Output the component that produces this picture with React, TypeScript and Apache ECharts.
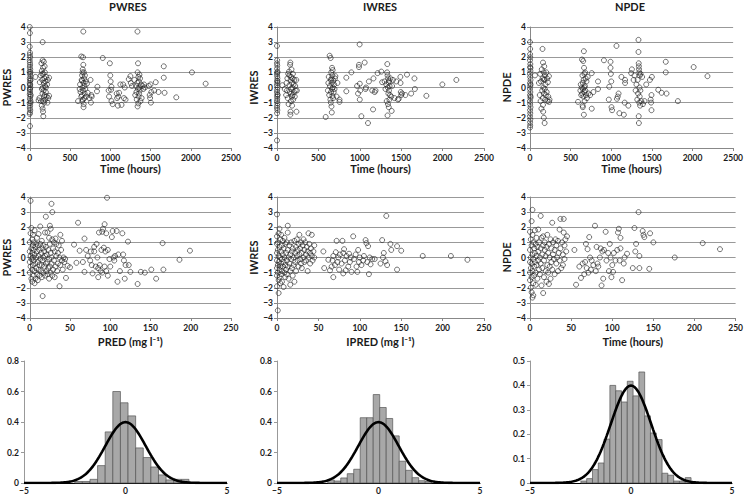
import React, { useEffect, useRef } from "react";
import * as echarts from "echarts";

// ---------- DATA ----------
const columnTitles = ["PWRES", "IWRES", "NPDE"];
const timeTicks = [0, 500, 1000, 1500, 2000, 2500];
const predTicks = [0, 50, 100, 150, 200, 250];

// PWRES vs Time (hours)
const pwresTime: number[][] = [
  [0,4.0],[2,3.6],[0,2.7],[3,2.3],[1,2.15],[5,2.0],[0,1.8],[2,1.65],[4,1.5],[1,1.35],[6,1.2],[0,1.05],[3,0.9],[8,0.75],[1,0.6],[5,0.45],[0,0.3],[3,0.15],[7,0.0],[1,-0.15],[4,-0.3],[0,-0.45],[6,-0.6],[2,-0.75],[9,-0.9],[0,-1.05],[4,-1.2],[1,-1.35],[6,-1.5],[2,-1.65],[0,-1.75],[3,-2.55],[10,0.5],[12,-0.5],[8,1.0],[10,-1.0],[5,0.2],[3,-0.1],
  [70,0.7],[110,-0.85],[120,-0.7],[125,0.35],[135,0.8],[140,-0.9],[145,1.6],[150,1.1],[150,-1.2],[155,0.5],[158,-0.4],[160,3.0],[160,1.8],[162,0.0],[165,-1.6],[165,1.3],[168,-1.9],[170,0.9],[172,-0.2],[175,1.7],[175,0.3],[178,-0.6],[180,-1.0],[182,0.6],[185,-0.5],[188,1.0],[190,0.1],[192,-0.8],[195,0.4],[200,-0.3],[205,0.7],[210,-0.6],[215,0.2],[220,-1.0],[225,0.5],[230,-0.7],[240,0.65],[240,-0.55],[150,-0.1],[155,0.9],[160,-1.4],[200,0.0],[185,1.4],[170,-0.9],
  [600,-0.9],[620,-0.1],[625,0.2],[630,-0.3],[640,2.05],[645,0.5],[648,-0.5],[650,0.8],[652,-0.9],[655,0.0],[658,1.2],[660,-0.2],[662,2.0],[665,3.7],[665,1.5],[668,-1.3],[668,0.3],[670,-1.1],[672,1.0],[675,0.6],[678,-0.7],[680,0.1],[682,-0.4],[685,0.8],[690,-0.1],[695,0.4],[700,-0.6],[710,0.25],[720,-0.35],[740,-0.7],[755,0.5],[760,-1.0],[765,-0.5],[770,-0.6],[835,-0.25],[840,0.05],[640,-0.6],[655,1.0],[660,-0.8],[650,0.45],
  [907,1.95],[980,-0.2],[985,-0.6],[995,1.6],[1000,0.8],[1005,0.4],[1010,-0.15],[1015,0.05],[1015,-0.9],[1030,-1.1],[1080,-0.4],[1085,-0.7],[1095,-1.2],[1100,-0.6],[1110,-0.35],[1125,0.2],[1140,-1.15],[1160,0.2],[1170,-0.7],[1180,0.0],[1190,-0.8],[1230,0.55],[1250,0.75],[1255,0.3],[1270,0.1],
  [1300,0.5],[1310,-0.5],[1320,0.1],[1325,-0.3],[1330,-0.8],[1335,0.3],[1338,3.7],[1340,-1.25],[1340,1.0],[1342,-0.1],[1345,1.6],[1348,-1.05],[1350,0.7],[1352,-0.6],[1355,0.4],[1358,-0.4],[1360,0.0],[1362,0.85],[1365,-0.2],[1370,0.6],[1375,-0.9],[1380,0.2],[1390,-0.7],[1400,0.1],[1410,-0.1],[1420,0.2],[1430,0.0],
  [1480,0.1],[1490,-0.5],[1495,-0.7],[1505,-1.0],[1500,0.2],[1510,-0.3],[1545,-0.2],[1565,0.35],[1600,-0.3],[1665,0.65],[1665,1.4],[1675,-0.35],[1820,-0.65],[2015,1.0],[2185,0.25]
];

// IWRES vs Time (hours)
const iwresTime: number[][] = [
  [0,2.75],[2,1.8],[0,1.6],[3,1.45],[1,1.25],[4,1.05],[0,0.9],[2,0.75],[5,0.6],[1,0.45],[3,0.3],[0,0.15],[6,0.0],[2,-0.15],[0,-0.3],[4,-0.45],[1,-0.6],[3,-0.75],[0,-0.9],[5,-1.05],[2,-1.2],[0,-1.35],[4,-1.5],[1,-1.7],[0,-3.5],[7,0.4],[8,-0.5],[6,1.0],
  [65,0.15],[93,-0.1],
  [110,-0.5],[115,0.3],[120,-0.2],[125,0.6],[130,-0.7],[135,0.9],[140,-1.1],[145,1.05],[150,0.15],[155,-0.3],[158,1.5],[161,1.65],[161,-1.8],[163,-1.6],[165,0.5],[168,-0.9],[170,0.7],[172,-0.4],[175,1.2],[178,-0.6],[180,0.3],[182,-1.2],[185,0.0],[188,-0.5],[190,0.6],[192,0.9],[195,-0.8],[200,0.2],[205,-0.3],[210,0.5],[215,-0.6],[220,0.1],[225,-0.2],[233,0.5],[235,-1.6],[240,-0.2],[150,0.8],[170,-0.1],
  [588,-1.95],[615,-0.2],[620,0.3],[625,0.7],[630,-0.5],[636,2.1],[640,0.1],[645,-0.8],[648,1.95],[650,0.5],[652,-0.3],[655,1.0],[658,-1.25],[660,0.3],[662,-1.65],[665,1.3],[665,-0.1],[668,0.8],[670,-0.55],[672,1.15],[675,0.0],[678,-0.7],[680,0.45],[685,-0.3],[690,0.2],[695,-0.1],[700,0.6],[705,0.75],[720,-0.6],[730,0.3],[755,-0.8],[755,-0.95],[650,-1.0],[660,0.6],
  [837,0.65],[837,-0.25],[898,1.0],[967,0.1],[979,-0.4],[990,1.35],[990,1.5],[998,2.85],[1000,0.25],[1005,-0.2],[1000,-0.8],[1019,-1.9],[1059,1.65],[1070,-0.1],[1075,0.0],[1099,-2.35],[1110,0.4],[1150,-0.2],[1160,-1.45],[1165,0.6],[1180,-0.3],[1190,-0.2],[1215,0.95],[1260,1.05],[1270,0.35],
  [1300,0.4],[1310,-0.1],[1320,0.2],[1325,-0.9],[1330,1.0],[1332,1.55],[1335,-1.85],[1335,0.8],[1338,0.0],[1340,-1.1],[1342,0.6],[1345,-0.4],[1348,0.35],[1350,-1.3],[1352,-0.2],[1355,0.45],[1358,-0.8],[1360,0.1],[1365,-0.5],[1370,0.6],[1380,-0.6],[1385,-1.55],[1390,0.1],[1400,0.5],[1420,-0.7],
  [1441,0.4],[1460,-0.8],[1470,-0.75],[1490,0.7],[1492,0.3],[1495,-0.3],[1500,-0.5],[1510,-0.4],[1550,-0.5],[1570,0.85],[1620,-0.4],[1660,0.6],[1665,-0.1],[1804,-0.55],[1997,0.2],[2166,0.5]
];

// NPDE vs Time (hours)
const npdeTime: number[][] = [
  [0,3.0],[2,2.55],[1,2.2],[3,2.0],[0,1.8],[4,1.55],[1,1.35],[5,1.1],[0,0.9],[2,0.7],[6,0.5],[1,0.3],[3,0.1],[0,-0.1],[4,-0.3],[1,-0.5],[5,-0.7],[0,-0.9],[2,-1.1],[6,-1.3],[1,-1.5],[3,-1.7],[0,-1.9],[4,-2.1],[1,-2.3],[2,-2.5],[0,-2.65],[7,0.2],[8,-0.6],[6,1.3],
  [61,0.8],
  [110,0.3],[120,-0.5],[125,0.9],[130,-0.9],[135,0.4],[140,-1.4],[145,1.2],[150,-0.2],[154,2.55],[155,0.6],[158,-0.7],[160,1.65],[162,-1.6],[165,0.0],[168,1.0],[170,-2.0],[172,-0.4],[175,1.4],[178,0.5],[180,-2.35],[182,-0.1],[185,0.8],[188,-0.8],[190,0.2],[195,-0.5],[200,1.0],[205,-0.3],[210,0.6],[215,-0.9],[220,0.35],[225,-0.6],[233,0.75],[235,-0.95],[240,-0.8],[160,-1.15],[170,0.55],
  [591,-0.95],[620,-0.2],[625,0.2],[630,-0.5],[635,0.0],[640,1.85],[642,-0.4],[645,0.8],[648,-1.2],[650,0.3],[652,-0.1],[655,1.75],[658,-0.6],[660,0.5],[663,2.4],[663,-1.8],[665,1.3],[668,-0.3],[670,0.9],[672,-0.9],[675,0.1],[678,1.0],[680,-0.2],[685,0.6],[690,-0.5],[695,0.4],[700,-0.7],[710,0.7],[720,-0.4],[740,-0.5],[760,0.95],[760,-1.4],[780,-0.3],[650,-1.3],[670,0.0],
  [837,0.4],[837,-0.1],[910,1.8],[970,-0.8],[975,0.05],[991,1.7],[991,1.3],[995,0.9],[1000,0.4],[1003,-1.3],[1010,-1.5],[1064,2.75],[1070,-0.75],[1080,-0.6],[1090,-0.4],[1100,-1.7],[1125,0.7],[1155,-1.8],[1165,-1.0],[1170,0.5],[1170,0.3],[1210,-1.2],[1245,0.95],[1254,1.2],[1275,0.5],[1285,0.8],
  [1300,-0.2],[1310,0.2],[1320,-0.8],[1325,0.5],[1330,-0.4],[1335,3.15],[1335,2.35],[1338,1.6],[1338,-1.9],[1340,1.4],[1340,-2.35],[1342,1.2],[1345,-1.0],[1345,1.0],[1348,0.0],[1350,-0.6],[1352,0.8],[1355,-1.2],[1358,-0.2],[1360,0.9],[1370,-0.9],[1380,0.7],[1390,-1.1],[1410,-0.9],[1430,0.2],
  [1476,0.5],[1485,-0.8],[1490,-1.0],[1495,-0.5],[1495,-1.5],[1500,0.7],[1578,-0.15],[1620,-0.35],[1671,1.7],[1671,1.0],[1680,-0.4],[1820,-0.9],[2014,1.35],[2184,0.75]
];

// PWRES vs PRED (mg l-1)
const pwresPred: number[][] = [
  [0,0.4],[0,-0.3],[0,1.0],[0,-1.0],[1,3.75],[1,0.1],[1,-0.6],[1,1.6],[2,-1.4],[2,0.6],[2,-0.1],[2,1.95],[3,-0.8],[3,0.3],[3,1.2],[3,-1.6],[4,0.0],[4,0.8],[4,-0.5],[4,1.5],[5,-1.2],[5,0.5],[5,-0.2],[5,1.0],[6,-0.9],[6,0.2],[6,1.8],[6,-1.7],[7,0.7],[7,-0.4],[7,-1.4],[8,0.9],[8,0.0],[8,-0.7],[9,1.3],[9,-1.1],[9,0.4],[10,-0.3],[10,0.8],[10,-1.5],[11,1.55],[11,0.1],[11,-0.8],[12,0.5],[12,-0.5],[12,-1.2],[13,2.05],[13,0.9],[13,-0.1],[14,-0.9],[14,0.3],[15,-0.5],[15,1.1],[15,-1.3],[16,-2.55],[16,0.6],[16,-0.2],[17,0.0],[17,-1.0],[17,0.8],[18,-0.6],[18,0.4],[19,-1.2],[19,1.65],[19,0.1],[20,2.7],[20,-0.4],[20,0.7],[21,-0.9],[21,0.2],[22,1.65],[22,-0.3],[22,-1.1],[23,0.5],[23,-0.7],[24,1.3],[24,-0.1],[24,-1.4],[25,2.1],[25,0.9],[25,-0.6],[26,0.3],[26,-1.0],[26,1.9],[27,3.55],[27,0.0],[27,-0.4],[28,3.0],[28,1.2],[28,-1.2],[29,0.6],[29,-0.8],[30,1.0],[30,-0.2],[31,0.4],[31,-1.3],[32,1.25],[32,-0.6],[33,0.1],[33,0.9],[34,-0.9],[35,0.3],[35,-0.4],[36,0.8],[37,-1.9],[37,0.0],[38,1.5],[38,-0.5],[39,0.5],[40,1.1],[40,-0.2],[41,-0.8],[42,0.0],[43,-0.3],[44,-0.1],[45,-1.35],[47,-0.55],[50,-0.65],
  [55,0.85],[58,-0.35],[60,2.3],[62,0.45],[66,-0.3],[68,1.25],[68,-0.95],[70,0.5],[72,0.1],[75,-0.2],[76,0.4],[77,-0.5],[78,-1.05],[80,0.7],[80,0.4],[82,-0.6],[83,0.9],[84,0.0],[85,-1.3],[86,1.65],[87,-0.5],[88,-0.9],[89,0.5],[90,1.7],[90,-1.0],[91,1.9],[92,0.65],[93,2.2],[93,-0.6],[94,0.4],[95,1.6],[96,3.95],[97,0.5],[97,-1.2],[99,-0.1],[102,1.35],[103,1.75],[104,0.0],[105,-0.2],[106,0.1],[108,1.75],[109,-1.6],[110,0.2],[112,-0.9],[115,1.6],[116,0.2],[117,-0.2],[118,-1.4],[119,-0.5],[122,1.05],[123,-0.5],[125,-0.95],[134,-1.75],[138,-0.95],[143,-1.0],[151,-0.8],[157,-1.4],[165,0.95],[166,-0.8],[186,-0.15],[199,0.45],[100,-0.6],[95,-0.9],[85,-0.7]
];

// IWRES vs IPRED (mg l-1)
const iwresIpred: number[][] = [
  [0,2.85],[0,1.4],[0,0.9],[0,0.3],[0,-0.2],[0,-0.7],[0,-1.2],[0,-1.9],[1,-3.5],[1,1.0],[1,0.5],[1,-0.5],[1,-1.0],[2,-2.35],[2,1.6],[2,0.1],[2,-0.3],[2,-1.5],[3,1.9],[3,0.7],[3,-0.8],[3,-1.3],[4,1.2],[4,0.0],[4,-0.6],[4,-1.7],[5,1.5],[5,0.4],[5,-0.4],[5,-1.1],[6,0.8],[6,-0.1],[6,-0.9],[6,-1.6],[7,1.1],[7,0.2],[7,-0.6],[8,0.6],[8,-0.3],[8,-1.95],[9,1.3],[9,0.0],[9,-1.0],[10,0.9],[10,-0.5],[10,-1.3],[11,0.3],[11,-0.8],[12,1.0],[12,-0.2],[12,-1.1],[13,2.1],[13,1.65],[13,0.5],[13,-0.6],[14,0.0],[14,-1.4],[15,0.8],[15,-0.4],[16,-1.8],[16,0.2],[16,-0.9],[17,1.0],[17,-0.1],[18,0.4],[18,-0.7],[19,-1.2],[19,0.6],[20,0.0],[20,-0.5],[21,1.1],[21,-1.6],[22,0.3],[22,-0.3],[23,0.7],[23,-0.9],[24,0.1],[24,1.2],[25,-0.2],[25,0.5],[26,-0.6],[26,0.9],[27,1.5],[27,0.2],[28,-0.1],[28,0.6],[29,1.0],[29,-0.4],[30,0.3],[30,-0.7],[31,0.8],[32,0.0],[32,1.2],[33,-0.3],[33,0.5],[34,1.0],[35,0.2],[35,-0.2],[36,0.7],[37,-0.9],[37,0.4],[38,1.6],[38,0.0],[39,0.9],[40,0.3],[40,-0.4],[41,0.6],[42,1.5],[42,0.1],[43,-0.2],[44,0.4],[45,0.8],[45,0.0],
  [56,0.4],[57,-0.7],[62,-0.15],[64,-0.85],[66,-0.6],[67,-0.2],[68,-1.3],[68,0.1],[70,-0.5],[71,0.35],[72,1.1],[73,-0.3],[74,0.0],[75,-0.8],[76,0.2],[78,-0.4],[79,1.1],[80,-1.05],[80,0.3],[81,0.55],[82,-0.2],[83,-0.85],[84,0.1],[86,-0.6],[87,0.25],[88,-0.3],[89,0.0],[90,-0.95],[92,1.4],[93,-0.1],[95,0.2],[96,-0.6],[97,-0.95],[98,0.5],[99,-0.3],[100,0.0],[102,-0.5],[104,-0.2],[105,0.1],[107,1.15],[108,0.95],[109,-0.3],[110,0.75],[111,-1.1],[112,0.0],[113,-0.45],[115,-0.1],[118,-0.1],[125,-0.4],[127,1.15],[128,0.0],[129,0.3],[131,-0.25],[132,2.75],[133,-0.5],[137,0.9],[138,0.5],[145,0.75],[145,-0.8],[150,0.45],[176,0.1],[210,0.1],[230,-0.15]
];

// NPDE vs Time (hours), 0-250
const npdeTimeShort: number[][] = [
  [0,1.7],[0,0.5],[0,-0.3],[0,-1.0],[0,-1.5],[1,1.2],[1,0.0],[1,-0.7],[1,-2.0],[2,2.4],[2,0.8],[2,-0.4],[2,-1.3],[2,-2.3],[3,3.15],[3,1.5],[3,0.2],[3,-0.9],[3,-2.65],[4,1.0],[4,-0.1],[4,-1.7],[4,-2.5],[5,0.6],[5,-0.6],[5,-1.2],[6,1.8],[6,0.3],[6,-0.3],[7,0.9],[7,-1.0],[7,-1.8],[8,0.1],[8,1.3],[8,-0.5],[9,-1.4],[9,0.7],[10,1.85],[10,-0.2],[10,0.4],[11,-0.8],[11,1.0],[12,0.0],[12,-1.1],[13,2.75],[13,0.6],[13,-0.4],[14,-1.85],[14,1.3],[15,0.2],[15,-0.7],[16,-2.35],[16,1.4],[16,0.8],[17,-0.2],[17,-1.3],[18,0.5],[18,1.0],[19,-0.9],[19,0.1],[20,-1.6],[20,0.7],[21,-0.5],[21,1.5],[22,0.3],[22,-1.0],[23,-1.75],[23,0.9],[24,0.0],[24,-0.6],[25,1.2],[25,-1.4],[26,0.6],[26,-0.3],[27,2.3],[27,-0.8],[28,0.2],[28,1.0],[29,-0.1],[30,-1.1],[30,0.5],[31,1.2],[32,-0.4],[32,0.8],[33,0.0],[34,-0.9],[34,1.1],[35,0.3],[36,1.85],[36,-0.2],[37,2.55],[37,0.6],[38,-0.7],[39,1.0],[40,0.2],[40,-0.5],[41,2.55],[41,1.65],[42,0.8],[42,-0.1],[43,1.2],[44,0.4],[45,1.4],
  [54,0.5],[56,-1.8],[60,-0.6],[62,-1.35],[64,-0.4],[66,-1.1],[67,-0.3],[68,0.9],[69,-0.7],[70,0.55],[71,-1.0],[72,1.35],[73,0.0],[74,-0.8],[75,-0.2],[77,-0.5],[79,2.1],[80,-0.9],[81,0.7],[82,-0.4],[83,-0.6],[85,0.0],[86,0.6],[87,-1.85],[88,0.4],[89,-1.4],[90,0.5],[92,1.7],[93,-0.2],[95,0.3],[96,-0.9],[97,0.9],[98,0.0],[99,-1.3],[100,-0.5],[101,-0.95],[102,0.3],[104,-0.2],[106,0.5],[107,1.65],[108,1.9],[109,-0.2],[110,1.3],[110,0.6],[112,-1.5],[114,-0.4],[115,0.0],[118,0.25],[125,-0.7],[127,1.95],[128,0.4],[129,0.9],[132,3.0],[133,-0.7],[133,0.1],[137,1.75],[138,1.5],[139,1.35],[145,-0.75],[146,1.6],[150,1.0],[176,0.0],[210,0.95],[231,0.55]
];

// Histograms: first bin left edge, bin width, densities
const pwresHistStart = -2.5;
const pwresHistWidth = 0.375;
const pwresHistDensity = [0.01, 0.01, 0.024, 0.114, 0.335, 0.6, 0.526, 0.44, 0.23, 0.167, 0.105, 0.053, 0.02, 0.024, 0.024];

const iwresHistStart = -2.5;
const iwresHistWidth = 0.32;
const iwresHistDensity = [0.02, 0.013, 0.033, 0.061, 0.09, 0.428, 0.428, 0.58, 0.495, 0.423, 0.309, 0.143, 0.083, 0.035, 0.015, 0.01];

const npdeHistStart = -2.48;
const npdeHistWidth = 0.287;
const npdeHistDensity = [0.008, 0.018, 0.055, 0.082, 0.18, 0.40, 0.378, 0.332, 0.417, 0.357, 0.455, 0.275, 0.205, 0.178, 0.04, 0.032, 0.008, 0.008, 0.022];

const histYMax = [0.8, 0.8, 0.5];
const histYInterval = [0.2, 0.2, 0.1];

// ---------- HELPERS ----------
const FONT = "Lato, 'DejaVu Sans', sans-serif";
const TXT = "#1a1a1a";

function minusFmt(v: number) {
  return String(v).replace("-", "\u2212");
}

function bins(start: number, width: number, dens: number[]) {
  return dens.map((d, i) => [start + i * width, start + (i + 1) * width, d]);
}

function normalCurve() {
  const pts: number[][] = [];
  for (let i = 0; i <= 200; i++) {
    const x = -5 + i * 0.05;
    pts.push([x, Math.exp(-0.5 * x * x) / Math.sqrt(2 * Math.PI)]);
  }
  return pts;
}

const colLefts = [24, 277, 530];
const colWidthsScatter = [207, 207, 206];
const colWidthsHist = [203, 203, 202];
const rowTops = [27, 197, 361];
const rowHeights = [121, 121, 122];

export default function App() {
  const ref = useRef<HTMLDivElement>(null);

  useEffect(() => {
    if (!ref.current) return;
    const chart = echarts.init(ref.current, undefined, { renderer: "svg" });

    const grids: any[] = [];
    const xAxes: any[] = [];
    const yAxes: any[] = [];
    const series: any[] = [];

    const labelStyle = { fontSize: 8.5, fontWeight: "bold", color: TXT, fontFamily: FONT };
    const nameStyle = { fontSize: 11, fontWeight: "bold", color: TXT, fontFamily: FONT };

    const scatterSets = [
      [pwresTime, iwresTime, npdeTime],
      [pwresPred, iwresIpred, npdeTimeShort],
    ];
    const xNames = [
      ["Time (hours)", "Time (hours)", "Time (hours)"],
      ["PRED (mg l\u207B\u00B9)", "IPRED (mg l\u207B\u00B9)", "Time (hours)"],
    ];
    const yNameGaps = [13, 13, 14];

    for (let r = 0; r < 2; r++) {
      for (let c = 0; c < 3; c++) {
        const idx = grids.length;
        grids.push({ left: colLefts[c], top: rowTops[r], width: colWidthsScatter[c], height: rowHeights[r] });
        xAxes.push({
          gridIndex: idx,
          type: "value",
          min: 0,
          max: r === 0 ? 2500 : 250,
          interval: r === 0 ? 500 : 50,
          axisLine: { show: true, onZero: false, lineStyle: { color: "#888", width: 1 } },
          axisTick: { show: true, length: 3, lineStyle: { color: "#888" } },
          splitLine: { show: false },
          axisLabel: { ...labelStyle, margin: 5, formatter: minusFmt },
          name: xNames[r][c],
          nameLocation: "middle",
          nameGap: r === 0 ? 15 : 18,
          nameTextStyle: nameStyle,
        });
        yAxes.push({
          gridIndex: idx,
          type: "value",
          min: -4,
          max: 4,
          interval: 1,
          axisLine: { show: true, onZero: false, lineStyle: { color: "#888", width: 1 } },
          axisTick: { show: true, length: 3, lineStyle: { color: "#888" } },
          splitLine: { show: true, lineStyle: { color: "#999", width: 1 } },
          axisLabel: { ...labelStyle, margin: 4, formatter: minusFmt },
          name: columnTitles[c],
          nameLocation: "middle",
          nameGap: yNameGaps[c],
          nameTextStyle: nameStyle,
        });
        series.push({
          type: "scatter",
          xAxisIndex: idx,
          yAxisIndex: idx,
          data: scatterSets[r][c],
          symbol: "circle",
          symbolSize: 5,
          itemStyle: { color: "rgba(255,255,255,0)", borderColor: "#222", borderWidth: 0.8 },
          silent: true,
        });
      }
    }

    const histData = [
      bins(pwresHistStart, pwresHistWidth, pwresHistDensity),
      bins(iwresHistStart, iwresHistWidth, iwresHistDensity),
      bins(npdeHistStart, npdeHistWidth, npdeHistDensity),
    ];
    const curve = normalCurve();

    for (let c = 0; c < 3; c++) {
      const idx = grids.length;
      grids.push({ left: colLefts[c], top: rowTops[2], width: colWidthsHist[c], height: rowHeights[2] });
      xAxes.push({
        gridIndex: idx,
        type: "value",
        min: -5,
        max: 5,
        interval: 5,
        axisLine: { show: true, onZero: false, lineStyle: { color: "#000", width: 1 } },
        axisTick: { show: false },
        splitLine: { show: false },
        axisLabel: { ...labelStyle, margin: 3, formatter: minusFmt },
      });
      yAxes.push({
        gridIndex: idx,
        type: "value",
        min: 0,
        max: histYMax[c],
        interval: histYInterval[c],
        axisLine: { show: true, onZero: false, lineStyle: { color: "#999", width: 1 } },
        axisTick: { show: true, length: 3, lineStyle: { color: "#999" } },
        splitLine: { show: false },
        axisLabel: { ...labelStyle, margin: 5 },
      });
      series.push({
        type: "custom",
        xAxisIndex: idx,
        yAxisIndex: idx,
        data: histData[c],
        encode: { x: [0, 1], y: 2 },
        silent: true,
        renderItem: (params: any, api: any) => {
          const p0 = api.coord([api.value(0), api.value(2)]);
          const p1 = api.coord([api.value(1), 0]);
          return {
            type: "rect",
            shape: { x: p0[0], y: p0[1], width: p1[0] - p0[0], height: p1[1] - p0[1] },
            style: { fill: "#a8a8a8", stroke: "#555", lineWidth: 0.7 },
          };
        },
      });
      series.push({
        type: "line",
        xAxisIndex: idx,
        yAxisIndex: idx,
        data: curve,
        showSymbol: false,
        symbol: "none",
        silent: true,
        lineStyle: { color: "#000", width: 2.6 },
        z: 5,
      });
    }

    const titleX = [128, 380, 630];
    const graphic = columnTitles.map((t, i) => ({
      type: "text",
      x: titleX[i],
      y: 6,
      style: {
        text: t,
        fill: TXT,
        font: `bold 11px ${FONT}`,
        textAlign: "center",
        textVerticalAlign: "middle",
      },
    }));

    chart.setOption({
      animation: false,
      backgroundColor: "#fff",
      grid: grids,
      xAxis: xAxes,
      yAxis: yAxes,
      series,
      graphic,
    });

    return () => chart.dispose();
  }, []);

  return (
    <div
      ref={ref}
      style={{ position: "absolute", left: 0, top: 0, width: 746, height: 497, background: "#fff" }}
    />
  );
}
